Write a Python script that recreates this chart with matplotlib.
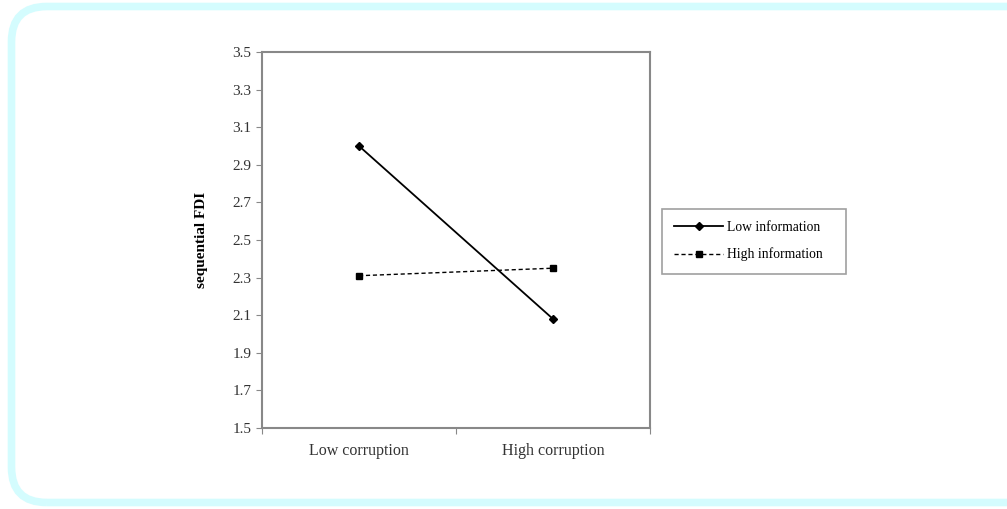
import matplotlib
matplotlib.use('Agg')
import matplotlib.pyplot as plt
from matplotlib.patches import FancyBboxPatch

# data
categories = ['Low corruption', 'High corruption']
low_info = [3.0, 2.08]
high_info = [2.31, 2.35]
yticks = [1.5, 1.7, 1.9, 2.1, 2.3, 2.5, 2.7, 2.9, 3.1, 3.3, 3.5]

plt.rcParams['font.family'] = ['Liberation Serif', 'DejaVu Serif']

W, H = 1007, 509
fig = plt.figure(figsize=(W / 100, H / 100), dpi=100)

# rounded cyan frame round the whole picture
frame = FancyBboxPatch((11.5 / W, 6.5 / H), (W + 30) / W, (H - 13) / H,
                       boxstyle='round,pad=0,rounding_size=0.035',
                       transform=fig.transFigure, facecolor='none',
                       edgecolor='#d4fcfe', linewidth=5.5, mutation_aspect=W / H,
                       clip_on=False, zorder=-5)
fig.patches.append(frame)

ax = fig.add_axes([262 / W, 1 - 428 / H, (650 - 262) / W, (428 - 52) / H])
ax.set_facecolor('none')

x = [0.5, 1.5]
ax.plot(x, low_info, color='black', linewidth=1.3, marker='D', markersize=4,
        label='Low information')
ax.plot(x, high_info, color='black', linewidth=1.0, linestyle=(0, (3, 2)),
        marker='s', markersize=5, label='High information')

ax.set_xlim(0, 2)
ax.set_ylim(1.5, 3.5)
ax.set_yticks(yticks)
ax.set_yticklabels(['%.1f' % v for v in yticks])
ax.set_xticks([0, 1, 2])
ax.set_xticklabels([])
ax.set_xticks(x, minor=True)
ax.set_xticklabels(categories, minor=True)
ax.tick_params(axis='x', which='minor', length=0, pad=11, labelsize=11.5, colors='#333333')
ax.tick_params(axis='x', which='major', length=4, direction='out', color='#888888')
ax.tick_params(axis='y', length=4, direction='out', color='#888888',
               labelsize=11, labelcolor='#333333')

for s in ax.spines.values():
    s.set_color('#888888')
    s.set_linewidth(1.5)

ax.set_ylabel('sequential FDI', fontweight='bold', fontsize=11, labelpad=18)

leg = ax.legend(loc='center left', bbox_to_anchor=(1.031, 0.417, 0.474, 0.16),
                mode='expand', fontsize=9.8,
                frameon=True, fancybox=False, handlelength=3.6, labelspacing=1.0,
                borderpad=0.9, handletextpad=0.3, borderaxespad=0)
leg.get_frame().set_edgecolor('#888888')
leg.get_frame().set_linewidth(1.2)

fig.savefig('out.png', dpi=100)
